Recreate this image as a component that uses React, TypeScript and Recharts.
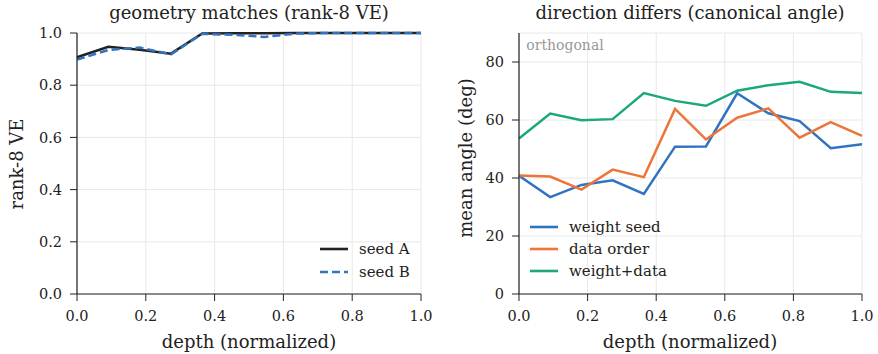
import React from 'react'
import { LineChart, Line, XAxis, YAxis, CartesianGrid } from 'recharts'

// normalized layer depth, shared by both panels
const depth = [0, 0.091, 0.182, 0.273, 0.364, 0.455, 0.545, 0.636, 0.727, 0.818, 0.909, 1.0]

// rank-8 variance explained
const seedA = [0.907, 0.947, 0.936, 0.921, 0.998, 0.999, 0.999, 1.0, 1.0, 1.0, 1.0, 1.0]
const seedB = [0.898, 0.935, 0.944, 0.918, 0.997, 0.993, 0.985, 0.998, 1.0, 1.0, 1.0, 1.0]

// mean canonical angle in degrees
const weightSeed = [40.8, 33.4, 37.6, 39.2, 34.5, 50.8, 50.9, 69.2, 62.3, 59.6, 50.3, 51.6]
const dataOrder = [40.9, 40.5, 36.0, 42.9, 40.3, 63.8, 53.3, 60.8, 64.0, 53.9, 59.3, 54.5]
const weightData = [53.6, 62.2, 59.9, 60.3, 69.3, 66.6, 64.9, 70.1, 72.0, 73.2, 69.7, 69.3]

const xTicks = [0, 0.2, 0.4, 0.6, 0.8, 1.0]
const veTicks = [0, 0.2, 0.4, 0.6, 0.8, 1.0]
const angleTicks = [0, 20, 40, 60, 80]

const FONT = '"DejaVu Serif", serif'
const INK = '#222'
const BLUE = '#3173c1'
const ORANGE = '#ec763a'
const GREEN = '#1ba87a'
const GRID = '#e8e8e8'

const veData = depth.map((d, i) => ({ d, a: seedA[i], b: seedB[i] }))
const angleData = depth.map((d, i) => ({ d, ws: weightSeed[i], dord: dataOrder[i], wd: weightData[i] }))

const tickStyle = { fill: INK, fontSize: 14.5, fontFamily: FONT }
const axisLine = { stroke: INK, strokeWidth: 1.2 }

type LegendItem = { label: string; color: string; dash?: string }

function LegendBox({ items, left, top, rowHeight }: { items: LegendItem[]; left: number; top: number; rowHeight: number }) {
  return (
    <div style={{ position: 'absolute', left, top, fontFamily: FONT, fontSize: 15, color: INK }}>
      {items.map((it) => (
        <div key={it.label} style={{ display: 'flex', alignItems: 'center', height: rowHeight }}>
          <svg width={28} height={6} style={{ marginRight: 11 }}>
            <line x1={0} y1={3} x2={28} y2={3} stroke={it.color} strokeWidth={2.6} strokeDasharray={it.dash} />
          </svg>
          <span>{it.label}</span>
        </div>
      ))}
    </div>
  )
}

// free text placed by its centre
function Text({ x, y, size, rotate, color, children }: { x: number; y: number; size: number; rotate?: boolean; color?: string; children: React.ReactNode }) {
  return (
    <div style={{
      position: 'absolute', left: x, top: y, fontFamily: FONT, fontSize: size, lineHeight: 1, color: color ?? INK,
      whiteSpace: 'nowrap', transform: `translate(-50%, -50%)${rotate ? ' rotate(-90deg)' : ''}`,
    }}>{children}</div>
  )
}

function frameAxes(domainY: [number, number]) {
  return [
    <XAxis key="top" xAxisId="top" orientation="top" type="number" domain={[0, 1]} height={0} tick={false} tickLine={false} axisLine={axisLine} />,
    <YAxis key="right" yAxisId="right" orientation="right" type="number" domain={domainY} width={0} tick={false} tickLine={false} axisLine={axisLine} />,
  ]
}

export default function App() {
  return (
    <div style={{ position: 'absolute', left: 0, top: 0, width: 878, height: 354, background: '#fff' }}>
      <div style={{ position: 'absolute', left: 0, top: 0 }}>
        <LineChart width={440} height={354} data={veData} margin={{ top: 33, right: 19, left: 27, bottom: 30 }}>
          <CartesianGrid stroke={GRID} />
          <XAxis dataKey="d" type="number" domain={[0, 1]} ticks={xTicks} tickFormatter={(v) => v.toFixed(1)}
            height={30} tick={tickStyle} tickSize={7} tickMargin={10} axisLine={axisLine} tickLine={{ stroke: INK }} />
          <YAxis type="number" domain={[0, 1]} ticks={veTicks} tickFormatter={(v) => v.toFixed(1)}
            width={50} tick={tickStyle} tickSize={7} tickMargin={8} axisLine={axisLine} tickLine={{ stroke: INK }} />
          {frameAxes([0, 1])}
          <Line dataKey="a" stroke={INK} strokeWidth={2.5} dot={false} isAnimationActive={false} />
          <Line dataKey="b" stroke={BLUE} strokeWidth={2.5} strokeDasharray="8 4" dot={false} isAnimationActive={false} />
        </LineChart>
      </div>
      <div style={{ position: 'absolute', left: 440, top: 0 }}>
        <LineChart width={438} height={354} data={angleData} margin={{ top: 33, right: 16, left: 29, bottom: 30 }}>
          <CartesianGrid stroke={GRID} />
          <XAxis dataKey="d" type="number" domain={[0, 1]} ticks={xTicks} tickFormatter={(v) => v.toFixed(1)}
            height={30} tick={tickStyle} tickSize={7} tickMargin={10} axisLine={axisLine} tickLine={{ stroke: INK }} />
          <YAxis type="number" domain={[0, 90]} ticks={angleTicks}
            width={50} tick={tickStyle} tickSize={7} tickMargin={8} axisLine={axisLine} tickLine={{ stroke: INK }} />
          {frameAxes([0, 90])}
          <Line dataKey="ws" stroke={BLUE} strokeWidth={2.5} dot={false} isAnimationActive={false} />
          <Line dataKey="dord" stroke={ORANGE} strokeWidth={2.5} dot={false} isAnimationActive={false} />
          <Line dataKey="wd" stroke={GREEN} strokeWidth={2.5} dot={false} isAnimationActive={false} />
        </LineChart>
      </div>

      <Text x={249} y={13} size={18}>geometry matches (rank-8 VE)</Text>
      <Text x={690} y={13} size={18}>direction differs (canonical angle)</Text>
      <Text x={249} y={342} size={18}>depth (normalized)</Text>
      <Text x={690} y={342} size={18}>depth (normalized)</Text>
      <Text x={17} y={164} size={18} rotate>rank-8 VE</Text>
      <Text x={466} y={158} size={18} rotate>mean angle (deg)</Text>
      <Text x={565} y={45} size={14} color="#999">orthogonal</Text>

      <LegendBox left={320} top={237} rowHeight={23.5} items={[
        { label: 'seed A', color: INK },
        { label: 'seed B', color: BLUE, dash: '8 4' },
      ]} />
      <LegendBox left={530} top={216} rowHeight={22} items={[
        { label: 'weight seed', color: BLUE },
        { label: 'data order', color: ORANGE },
        { label: 'weight+data', color: GREEN },
      ]} />
    </div>
  )
}
